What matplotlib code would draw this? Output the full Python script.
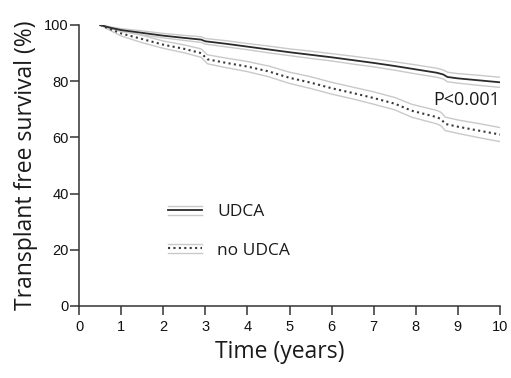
import matplotlib
matplotlib.use("Agg")
import matplotlib.pyplot as plt
from matplotlib.lines import Line2D
from matplotlib.legend_handler import HandlerBase

# ---- data ----
time_udca = [0.5, 0.75, 1.0, 1.5, 2.0, 2.5, 2.9, 3.0, 3.5, 4.0, 4.5, 5.0, 5.5, 6.0, 6.5, 7.0, 7.5, 8.0, 8.5, 8.65, 8.75, 9.0, 9.5, 10.0]
surv_udca = [100, 99.0, 98.2, 97.2, 96.2, 95.4, 94.8, 94.2, 93.3, 92.3, 91.3, 90.3, 89.4, 88.5, 87.5, 86.5, 85.4, 84.2, 83.0, 82.4, 81.5, 81.0, 80.3, 79.6]
upper_udca = [100, 99.3, 98.7, 97.9, 97.0, 96.3, 95.8, 95.2, 94.4, 93.4, 92.5, 91.5, 90.7, 89.8, 88.9, 87.9, 86.9, 85.8, 84.6, 84.0, 83.2, 82.7, 82.1, 81.4]
lower_udca = [100, 98.7, 97.7, 96.5, 95.4, 94.5, 93.8, 93.2, 92.2, 91.2, 90.1, 89.1, 88.1, 87.2, 86.1, 85.1, 83.9, 82.6, 81.4, 80.8, 79.8, 79.3, 78.5, 77.8]

time_no = [0.5, 0.75, 1.0, 1.5, 2.0, 2.5, 2.9, 3.05, 3.5, 4.0, 4.5, 5.0, 5.5, 6.0, 6.5, 7.0, 7.5, 7.9, 8.5, 8.6, 8.7, 9.0, 9.5, 10.0]
surv_no = [100, 98.5, 97.0, 95.0, 93.0, 91.5, 90.0, 87.8, 86.5, 85.2, 83.5, 81.2, 79.5, 77.5, 75.8, 74.0, 72.0, 69.5, 67.2, 66.5, 64.8, 63.8, 62.4, 61.0]
upper_no = [100, 99.0, 97.9, 96.3, 94.3, 92.9, 91.5, 89.4, 88.2, 87.0, 85.4, 83.2, 81.6, 79.6, 77.9, 76.2, 74.2, 71.8, 69.6, 68.9, 67.2, 66.2, 64.9, 63.5]
lower_no = [100, 98.0, 96.1, 93.7, 91.7, 90.1, 88.5, 86.2, 84.8, 83.4, 81.6, 79.2, 77.4, 75.4, 73.7, 71.8, 69.8, 67.2, 64.8, 64.1, 62.4, 61.4, 59.9, 58.5]

series_labels = ["UDCA", "no UDCA"]
x_ticks = list(range(0, 11))
y_ticks = [0, 20, 40, 60, 80, 100]
p_text = "P<0.001"

# ---- figure ----
fig = plt.figure(figsize=(5.11, 3.78), dpi=100)
ax = fig.add_axes([0.1546, 0.1905, 0.8239, 0.7434])

band_color = "#c9c9c9"
ax.plot(time_udca, upper_udca, color=band_color, lw=1.0)
ax.plot(time_udca, lower_udca, color=band_color, lw=1.0)
ax.plot(time_no, upper_no, color=band_color, lw=1.0)
ax.plot(time_no, lower_no, color=band_color, lw=1.0)
ax.plot(time_udca, surv_udca, color="#2b2b2b", lw=1.3)
ax.plot(time_no, surv_no, color="#3a3a3a", lw=1.5, linestyle=(0, (1, 1.6)))

ax.set_xlim(0, 10)
ax.set_ylim(0, 100)
ax.set_xticks(x_ticks)
ax.set_yticks(y_ticks)
for s in ["top", "right"]:
    ax.spines[s].set_visible(False)
for s in ["left", "bottom"]:
    ax.spines[s].set_color("#333333")
    ax.spines[s].set_linewidth(1.1)
ax.tick_params(axis="both", direction="out", length=6.5, width=1.1, color="#333333",
               labelsize=10.5)
ax.tick_params(axis="y", pad=1)
ax.tick_params(axis="x", pad=3.5)
for lab in ax.get_xticklabels() + ax.get_yticklabels():
    lab.set_fontfamily("Liberation Sans")
    lab.set_color("#111111")

ax.set_xlabel("Time (years)", fontsize=16.5, family="Open Sans", color="#1a1a1a")
ax.xaxis.set_label_coords(0.478, -0.122)
ax.set_ylabel("Transplant free survival (%)", fontsize=16.5, family="Open Sans", color="#1a1a1a")
ax.yaxis.set_label_coords(-0.098, 0.5)

ax.text(10, 73.3, p_text, ha="right", va="center", fontsize=13, family="Open Sans", color="#1a1a1a")


class BandHandler(HandlerBase):
    def __init__(self, ls, lw, color):
        super().__init__()
        self.ls, self.lw, self.color = ls, lw, color

    def create_artists(self, legend, orig_handle, xdescent, ydescent, width, height, fontsize, trans):
        cy = height / 2 - ydescent
        arts = []
        for dy in (3.0, -3.5):
            arts.append(Line2D([-xdescent, width - xdescent], [cy + dy, cy + dy], color=band_color, lw=1.0, transform=trans))
        arts.append(Line2D([-xdescent, width - xdescent], [cy, cy], color=self.color, lw=self.lw, linestyle=self.ls, transform=trans))
        return arts


h1 = Line2D([], [])
h2 = Line2D([], [])
leg = ax.legend([h1, h2], series_labels,
                handler_map={h1: BandHandler("-", 1.3, "#2b2b2b"), h2: BandHandler((0, (1, 1.6)), 1.5, "#3a3a3a")},
                loc="upper left", bbox_to_anchor=(0.19, 0.395), frameon=False,
                prop={"family": "Open Sans", "size": 12.5}, handlelength=2.0, handletextpad=0.85,
                labelspacing=1.3, borderpad=0)
for t in leg.get_texts():
    t.set_color("#1a1a1a")

fig.savefig("out.png", dpi=100)
